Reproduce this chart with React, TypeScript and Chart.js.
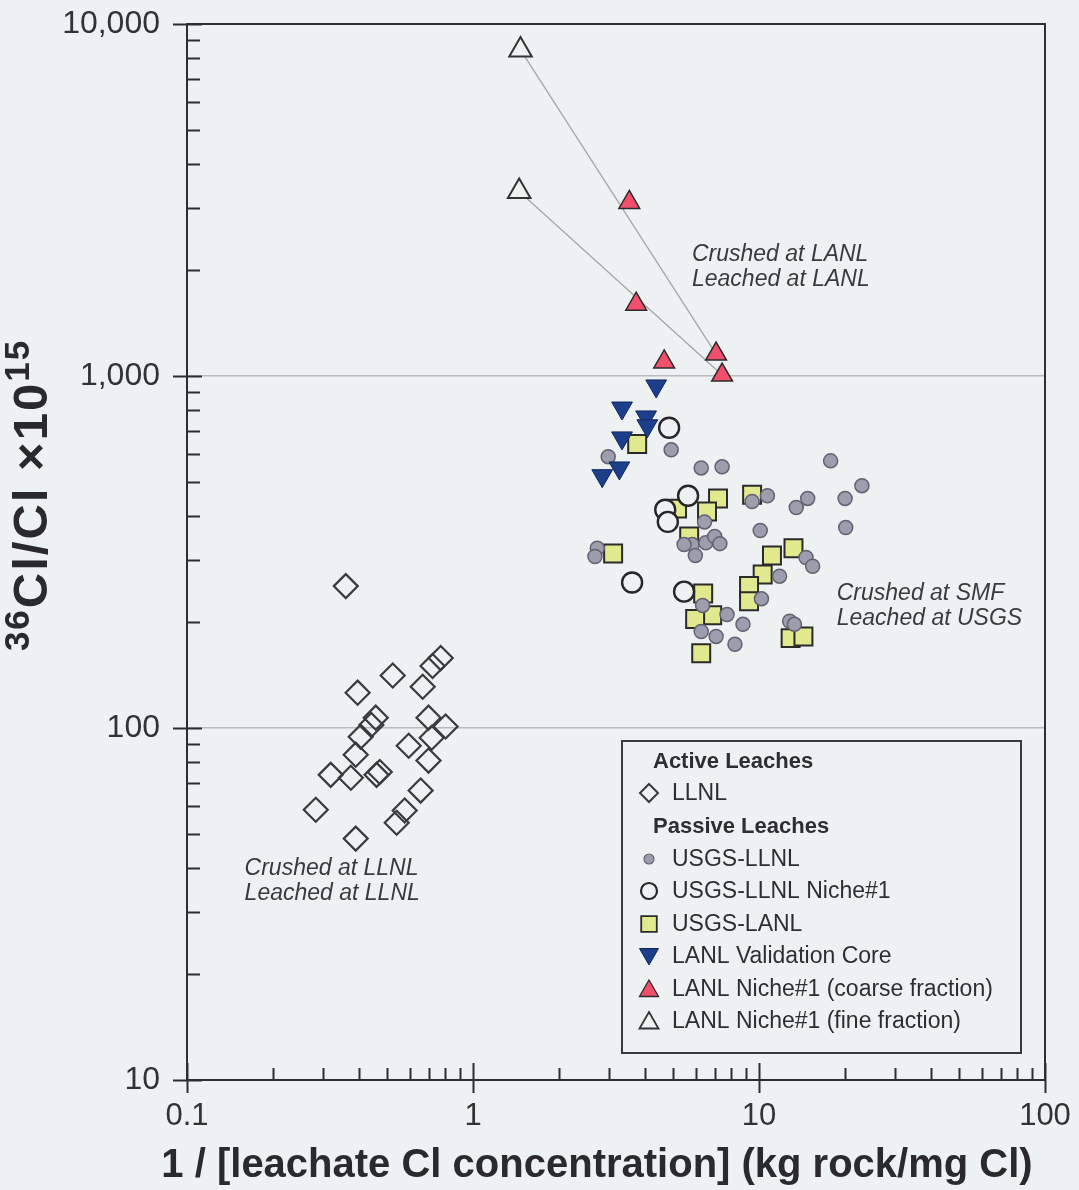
import React, { useEffect, useRef } from 'react';
import { Chart, registerables } from 'chart.js';

Chart.register(...registerables);

const FONT = '"Liberation Sans", Arial, Helvetica, sans-serif';
const BG = '#eef1f2';
const INK = '#2e2e30';

// ---- axes ----
const xTickValues = [0.1, 1, 10, 100];
const xTickLabels = ['0.1', '1', '10', '100'];
const yTickValues = [10, 100, 1000, 10000];
const yTickLabels = ['10', '100', '1,000', '10,000'];
const yGridValues = [100, 1000];
const xTitle = '1 / [leachate Cl concentration] (kg rock/mg Cl)';

// ---- Active leaches: LLNL ----
const llnlX = [0.359, 0.771, 0.722, 0.524, 0.667, 0.395, 0.457, 0.441, 0.699, 0.802, 0.717, 0.405, 0.596, 0.389, 0.699, 0.318, 0.374, 0.46, 0.472, 0.656, 0.282, 0.577, 0.541, 0.389];
const llnlY = [253, 158, 150, 141, 131, 126, 107, 102, 107, 101, 93.8, 94.4, 89.0, 84.0, 80.8, 73.6, 72.2, 73.6, 75, 66.4, 58.6, 58.3, 53.8, 48.5];

// ---- Passive leaches ----
const usgsLlnlX = [2.97, 4.93, 6.28, 7.43, 17.8, 22.9, 20.0, 14.8, 13.5, 10.7, 9.46, 20.1, 10.1, 6.45, 2.72, 2.67, 5.84, 6.52, 7.0, 7.3, 5.99, 5.47, 14.6, 15.4, 11.8, 10.2, 6.35, 7.73, 8.79, 6.28, 7.08, 8.24, 12.8, 13.3];
const usgsLlnlY = [590, 617, 548, 552, 574, 488, 449, 449, 423, 457, 440, 371, 364, 385, 324, 307, 332, 336, 350, 334, 309, 332, 305, 288, 270, 233, 223, 210, 197, 188, 182, 173, 201, 197];

const usgsNicheX = [4.85, 5.65, 4.7, 4.8, 3.6, 5.47];
const usgsNicheY = [713, 457, 417, 385, 259, 244];

const usgsLanlX = [3.75, 7.19, 9.46, 6.58, 5.17, 5.7, 3.09, 11.1, 13.2, 10.3, 9.23, 9.23, 6.38, 6.86, 5.98, 6.28, 12.9, 14.3];
const usgsLanlY = [641, 449, 460, 412, 420, 350, 313, 309, 324, 273, 253, 229, 241, 209, 204, 163, 180, 182];

const valCoreX = [4.37, 3.32, 4.03, 4.07, 3.32, 3.25, 2.83];
const valCoreY = [937, 811, 765, 722, 667, 548, 521];

const coarseX = [3.52, 3.72, 4.66, 7.08, 7.43];
const coarseY = [3112, 1600, 1096, 1154, 1006];

const fineX = [1.466, 1.45];
const fineY = [8440, 3344];

// tie lines: fine fraction index -> coarse fraction index
const tieFine = [0, 1];
const tieCoarse = [3, 4];

// ---- annotations ----
const annotLines = [
  ['Crushed at LANL', 'Leached at LANL'],
  ['Crushed at SMF', 'Leached at USGS'],
  ['Crushed at LLNL', 'Leached at LLNL'],
];
const annotX = [5.83, 18.7, 0.159];
const annotY = [2218, 241, 39.9];

// ---- legend ----
const legendHeaders = ['Active Leaches', 'Passive Leaches'];
const legendLabels = [
  'LLNL',
  'USGS-LLNL',
  'USGS-LLNL Niche#1',
  'USGS-LANL',
  'LANL Validation Core',
  'LANL Niche#1 (coarse fraction)',
  'LANL Niche#1 (fine fraction)',
];

const pts = (xs: number[], ys: number[]) => xs.map((x, i) => ({ x, y: ys[i] }));

type Sty = { shape: string; r: number; fill: string; stroke: string; lw: number; rot?: number };
const styles: Sty[] = [
  { shape: 'diamond', r: 12, fill: 'rgba(0,0,0,0)', stroke: '#3a3a3c', lw: 2.2 },
  { shape: 'circle', r: 7, fill: '#9d9dae', stroke: '#626272', lw: 1.5 },
  { shape: 'circle', r: 10, fill: BG, stroke: '#262628', lw: 2.4 },
  { shape: 'rect', r: 12.7, fill: '#e2e88e', stroke: '#2a2a2a', lw: 2 },
  { shape: 'triangle', r: 12, fill: '#1c3f8c', stroke: '#13285a', lw: 1, rot: 180 },
  { shape: 'triangle', r: 12, fill: '#f0506b', stroke: '#2b2b2b', lw: 1.5 },
  { shape: 'triangle', r: 13, fill: BG, stroke: '#333', lw: 2 },
];
const legendStyles: Sty[] = [
  { shape: 'diamond', r: 9, fill: 'rgba(0,0,0,0)', stroke: '#3a3a3c', lw: 2 },
  { shape: 'circle', r: 5, fill: '#9d9dae', stroke: '#626272', lw: 1.2 },
  { shape: 'circle', r: 8, fill: BG, stroke: '#262628', lw: 2.2 },
  { shape: 'rect', r: 11, fill: '#e2e88e', stroke: '#2a2a2a', lw: 1.8 },
  { shape: 'triangle', r: 11, fill: '#1c3f8c', stroke: '#13285a', lw: 1, rot: 180 },
  { shape: 'triangle', r: 11, fill: '#f0506b', stroke: '#2b2b2b', lw: 1.3 },
  { shape: 'triangle', r: 11, fill: BG, stroke: '#333', lw: 1.8 },
];

function drawMarker(ctx: CanvasRenderingContext2D, s: Sty, x: number, y: number) {
  ctx.save();
  ctx.beginPath();
  const r = s.r;
  if (s.shape === 'circle') {
    ctx.arc(x, y, r, 0, Math.PI * 2);
  } else if (s.shape === 'diamond') {
    ctx.moveTo(x, y - r); ctx.lineTo(x + r, y); ctx.lineTo(x, y + r); ctx.lineTo(x - r, y); ctx.closePath();
  } else if (s.shape === 'rect') {
    const h = r * Math.SQRT1_2;
    ctx.rect(x - h, y - h, 2 * h, 2 * h);
  } else {
    const sgn = s.rot === 180 ? -1 : 1;
    const a = (r * Math.sqrt(3)) / 2;
    ctx.moveTo(x, y - sgn * r);
    ctx.lineTo(x + a, y + sgn * r / 2);
    ctx.lineTo(x - a, y + sgn * r / 2);
    ctx.closePath();
  }
  ctx.fillStyle = s.fill;
  ctx.fill();
  ctx.lineWidth = s.lw;
  ctx.strokeStyle = s.stroke;
  ctx.stroke();
  ctx.restore();
}

const decor = {
  id: 'decor',
  beforeDraw(chart: any) {
    const { ctx, width, height } = chart;
    ctx.save();
    ctx.fillStyle = BG;
    ctx.fillRect(0, 0, width, height);
    ctx.restore();
  },
  beforeDatasetsDraw(chart: any) {
    const { ctx, chartArea: a, scales } = chart;
    const xs = scales.x, ys = scales.y;
    ctx.save();
    ctx.strokeStyle = INK;
    ctx.lineWidth = 2;
    ctx.strokeRect(a.left, a.top, a.right - a.left, a.bottom - a.top);
    ctx.beginPath();
    // y ticks
    for (let e = 1; e <= 3; e++) {
      for (let m = 2; m <= 9; m++) {
        const py = Math.round(ys.getPixelForValue(m * Math.pow(10, e))) + 0.5;
        ctx.moveTo(a.left, py); ctx.lineTo(a.left + 13, py);
      }
    }
    yTickValues.forEach((v) => {
      const py = Math.round(ys.getPixelForValue(v)) + 0.5;
      ctx.moveTo(a.left - 14, py); ctx.lineTo(a.left + 15, py);
    });
    // x ticks
    for (let e = -1; e <= 1; e++) {
      for (let m = 2; m <= 9; m++) {
        const px = Math.round(xs.getPixelForValue(m * Math.pow(10, e))) + 0.5;
        ctx.moveTo(px, a.bottom); ctx.lineTo(px, a.bottom - 12);
      }
    }
    xTickValues.forEach((v) => {
      const px = Math.round(xs.getPixelForValue(v)) + 0.5;
      ctx.moveTo(px, a.bottom + 13); ctx.lineTo(px, a.bottom - 17);
    });
    ctx.stroke();
    ctx.restore();
  },
  afterDatasetsDraw(chart: any) {
    const { ctx, chartArea: a, scales } = chart;
    const xs = scales.x, ys = scales.y;
    ctx.save();
    // annotations
    ctx.fillStyle = '#3a3a3c';
    ctx.font = `italic 23px ${FONT}`;
    ctx.textAlign = 'left';
    ctx.textBaseline = 'middle';
    annotLines.forEach((lines, i) => {
      const px = xs.getPixelForValue(annotX[i]);
      const py = ys.getPixelForValue(annotY[i]);
      lines.forEach((t, j) => ctx.fillText(t, px, py + j * 25));
    });

    // legend
    const bw = 399, bh = 312;
    const bx = a.right - 24 - bw, by = a.bottom - 27 - bh;
    ctx.fillStyle = BG;
    ctx.fillRect(bx, by, bw, bh);
    ctx.strokeStyle = '#3a3a3c';
    ctx.lineWidth = 2;
    ctx.strokeRect(bx, by, bw, bh);
    ctx.fillStyle = '#2e2e30';
    ctx.textBaseline = 'middle';
    ctx.font = `bold 22px ${FONT}`;
    ctx.fillText(legendHeaders[0], bx + 31, by + 21);
    ctx.fillText(legendHeaders[1], bx + 31, by + 86);
    const rows = [52, 118, 150, 183, 215, 248, 280];
    ctx.font = `23px ${FONT}`;
    legendLabels.forEach((t, i) => {
      drawMarker(ctx, legendStyles[i], bx + 27, by + rows[i] + (legendStyles[i].shape === 'triangle' ? (legendStyles[i].rot === 180 ? -2 : 2) : 0));
      ctx.fillStyle = '#2e2e30';
      ctx.fillText(t, bx + 50, by + rows[i] + 1);
    });

    // x title
    ctx.font = `bold 40px ${FONT}`;
    ctx.textAlign = 'center';
    ctx.textBaseline = 'alphabetic';
    ctx.fillStyle = '#2a2a2c';
    ctx.fillText(xTitle, 597, a.bottom + 97);

    // y title with superscripts
    ctx.translate(30, 495);
    ctx.rotate(-Math.PI / 2);
    try { (ctx as any).letterSpacing = '2px'; } catch (e) {}
    const mainF = `bold 49px ${FONT}`;
    const supF = `bold 35px ${FONT}`;
    ctx.font = supF;
    const w36 = ctx.measureText('36').width;
    const w15 = ctx.measureText('15').width;
    ctx.font = mainF;
    const wm = ctx.measureText('Cl/Cl ×10').width;
    const total = w36 + wm + w15;
    let u = -total / 2;
    ctx.textAlign = 'left';
    ctx.font = supF;
    ctx.fillText('36', u, -1);
    u += w36;
    ctx.font = mainF;
    ctx.fillText('Cl/Cl ×10', u, 17);
    u += wm;
    ctx.font = supF;
    ctx.fillText('15', u, -1);
    ctx.restore();
  },
};

export default function App() {
  const ref = useRef<HTMLCanvasElement | null>(null);
  useEffect(() => {
    if (!ref.current) return;
    const mk = (label: string, xs: number[], ys: number[], s: Sty, order: number) => ({
      type: 'scatter' as const,
      label,
      data: pts(xs, ys),
      pointStyle: s.shape === 'diamond' ? 'rectRot' : s.shape,
      pointRadius: s.r,
      pointRotation: s.rot || 0,
      pointBackgroundColor: s.fill,
      pointBorderColor: s.stroke,
      pointBorderWidth: s.lw,
      pointHoverRadius: s.r,
      order,
    });
    const ties = tieFine.map((fi, k) => ({
      type: 'line' as const,
      label: 'tie' + k,
      data: [
        { x: fineX[fi], y: fineY[fi] },
        { x: coarseX[tieCoarse[k]], y: coarseY[tieCoarse[k]] },
      ],
      borderColor: '#a3a7ab',
      borderWidth: 1.3,
      pointRadius: 0,
      showLine: true,
      fill: false,
      order: 20,
    }));
    const zeroPad = (s: any) => { s.paddingTop = 0; s.paddingBottom = 0; s.paddingLeft = 0; s.paddingRight = 0; };
    const chart = new Chart(ref.current, {
      type: 'scatter',
      data: {
        datasets: [
          ...ties,
          mk(legendLabels[3], usgsLanlX, usgsLanlY, styles[3], 12),
          mk(legendLabels[1], usgsLlnlX, usgsLlnlY, styles[1], 11),
          mk(legendLabels[2], usgsNicheX, usgsNicheY, styles[2], 10),
          mk(legendLabels[0], llnlX, llnlY, styles[0], 9),
          mk(legendLabels[4], valCoreX, valCoreY, styles[4], 8),
          mk(legendLabels[5], coarseX, coarseY, styles[5], 7),
          mk(legendLabels[6], fineX, fineY, styles[6], 6),
        ] as any,
      },
      options: {
        animation: false,
        responsive: false,
        maintainAspectRatio: false,
        layout: { padding: { left: 0, right: 34, top: 24, bottom: 0 } },
        plugins: { legend: { display: false }, tooltip: { enabled: false } },
        events: [],
        scales: {
          x: {
            type: 'logarithmic',
            min: 0.1,
            max: 100,
            afterBuildTicks: (s: any) => { s.ticks = xTickValues.map((v) => ({ value: v })); },
            afterFit: (s: any) => { s.height = 110; zeroPad(s); },
            ticks: {
              autoSkip: false,
              maxRotation: 0,
              padding: 18,
              color: '#333335',
              font: { size: 31, family: FONT },
              callback: (_v: any, i: number) => xTickLabels[i],
            },
            grid: { display: false, drawTicks: false },
            border: { display: false },
          },
          y: {
            type: 'logarithmic',
            min: 10,
            max: 10000,
            afterBuildTicks: (s: any) => { s.ticks = yTickValues.map((v) => ({ value: v })); },
            afterFit: (s: any) => { s.width = 187; zeroPad(s); },
            ticks: {
              autoSkip: false,
              padding: 27,
              color: '#333335',
              font: { size: 32, family: FONT },
              callback: (_v: any, i: number) => yTickLabels[i],
            },
            grid: {
              drawTicks: false,
              lineWidth: 1.5,
              color: (c: any) => (c.tick && yGridValues.includes(c.tick.value) ? '#b7bbbf' : 'rgba(0,0,0,0)'),
            },
            border: { display: false },
          },
        },
      } as any,
      plugins: [decor],
    });
    return () => chart.destroy();
  }, []);
  return (
    <div style={{ position: 'absolute', left: 0, top: 0, width: 1079, height: 1190, background: BG }}>
      <canvas ref={ref} width={1079} height={1190} style={{ display: 'block', width: 1079, height: 1190 }} />
    </div>
  );
}
